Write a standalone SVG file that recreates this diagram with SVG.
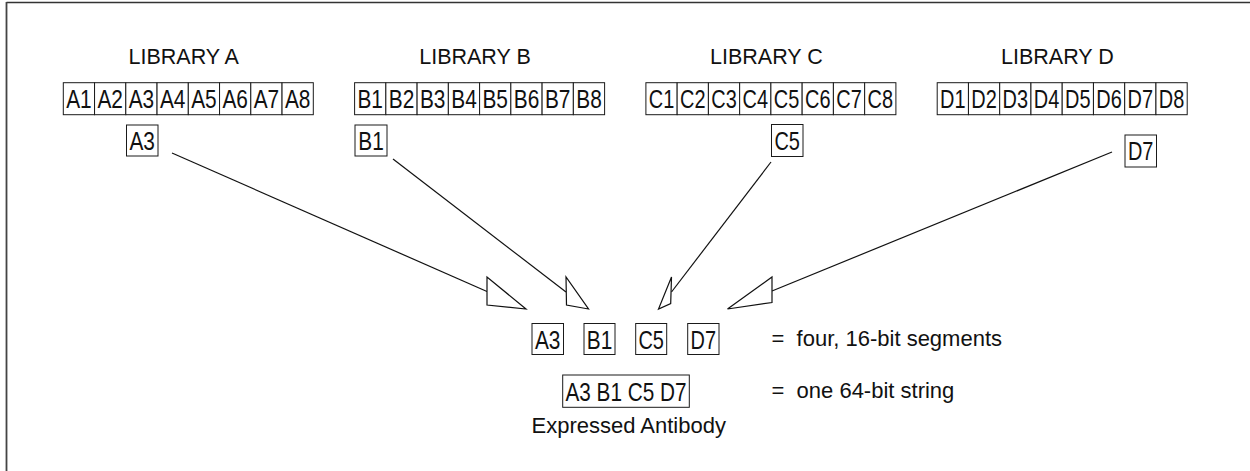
<svg xmlns="http://www.w3.org/2000/svg" width="1250" height="471" viewBox="0 0 1250 471">
<style>
.bx{fill:#fff;stroke:#1a1a1a;stroke-width:1}
.ct{font-family:"Liberation Sans",Arial,sans-serif;font-size:26px;fill:#111;text-anchor:middle}
.lb{font-family:"Liberation Sans",Arial,sans-serif;font-size:21.5px;fill:#111;text-anchor:middle}
.tx{font-family:"Liberation Sans",Arial,sans-serif;font-size:22px;fill:#111}
.ln{stroke:#111;stroke-width:1.2;fill:none}
.ah{fill:#fff;stroke:#111;stroke-width:1.2;stroke-linejoin:miter}
</style>
<rect width="1250" height="471" fill="#fff"/>
<g id="frame">
<line x1="6.5" y1="2.5" x2="1250" y2="2.5" stroke="#333" stroke-width="1.6"/>
<line x1="6.5" y1="2" x2="6.5" y2="471" stroke="#444" stroke-width="1.8"/>
</g>
<g id="libraryA">
<text class="lb" x="183.7" y="63.5">LIBRARY A</text>
<rect class="bx" x="63.3" y="82.7" width="31.25" height="32"/><text class="ct" x="78.9" y="107.5" textLength="25.5" lengthAdjust="spacingAndGlyphs">A1</text>
<rect class="bx" x="94.55" y="82.7" width="31.25" height="32"/><text class="ct" x="110.2" y="107.5" textLength="25.5" lengthAdjust="spacingAndGlyphs">A2</text>
<rect class="bx" x="125.8" y="82.7" width="31.25" height="32"/><text class="ct" x="141.4" y="107.5" textLength="25.5" lengthAdjust="spacingAndGlyphs">A3</text>
<rect class="bx" x="157.05" y="82.7" width="31.25" height="32"/><text class="ct" x="172.7" y="107.5" textLength="25.5" lengthAdjust="spacingAndGlyphs">A4</text>
<rect class="bx" x="188.3" y="82.7" width="31.25" height="32"/><text class="ct" x="203.9" y="107.5" textLength="25.5" lengthAdjust="spacingAndGlyphs">A5</text>
<rect class="bx" x="219.55" y="82.7" width="31.25" height="32"/><text class="ct" x="235.2" y="107.5" textLength="25.5" lengthAdjust="spacingAndGlyphs">A6</text>
<rect class="bx" x="250.8" y="82.7" width="31.25" height="32"/><text class="ct" x="266.4" y="107.5" textLength="25.5" lengthAdjust="spacingAndGlyphs">A7</text>
<rect class="bx" x="282.05" y="82.7" width="31.25" height="32"/><text class="ct" x="297.7" y="107.5" textLength="25.5" lengthAdjust="spacingAndGlyphs">A8</text>
</g>
<g id="libraryB">
<text class="lb" x="475" y="63.5">LIBRARY B</text>
<rect class="bx" x="354.6" y="82.7" width="31.25" height="32"/><text class="ct" x="370.2" y="107.5" textLength="25.5" lengthAdjust="spacingAndGlyphs">B1</text>
<rect class="bx" x="385.85" y="82.7" width="31.25" height="32"/><text class="ct" x="401.5" y="107.5" textLength="25.5" lengthAdjust="spacingAndGlyphs">B2</text>
<rect class="bx" x="417.1" y="82.7" width="31.25" height="32"/><text class="ct" x="432.7" y="107.5" textLength="25.5" lengthAdjust="spacingAndGlyphs">B3</text>
<rect class="bx" x="448.35" y="82.7" width="31.25" height="32"/><text class="ct" x="464" y="107.5" textLength="25.5" lengthAdjust="spacingAndGlyphs">B4</text>
<rect class="bx" x="479.6" y="82.7" width="31.25" height="32"/><text class="ct" x="495.2" y="107.5" textLength="25.5" lengthAdjust="spacingAndGlyphs">B5</text>
<rect class="bx" x="510.85" y="82.7" width="31.25" height="32"/><text class="ct" x="526.5" y="107.5" textLength="25.5" lengthAdjust="spacingAndGlyphs">B6</text>
<rect class="bx" x="542.1" y="82.7" width="31.25" height="32"/><text class="ct" x="557.7" y="107.5" textLength="25.5" lengthAdjust="spacingAndGlyphs">B7</text>
<rect class="bx" x="573.35" y="82.7" width="31.25" height="32"/><text class="ct" x="589" y="107.5" textLength="25.5" lengthAdjust="spacingAndGlyphs">B8</text>
</g>
<g id="libraryC">
<text class="lb" x="766.4" y="63.5">LIBRARY C</text>
<rect class="bx" x="645.9" y="82.7" width="31.25" height="32"/><text class="ct" x="661.5" y="107.5" textLength="25.5" lengthAdjust="spacingAndGlyphs">C1</text>
<rect class="bx" x="677.15" y="82.7" width="31.25" height="32"/><text class="ct" x="692.8" y="107.5" textLength="25.5" lengthAdjust="spacingAndGlyphs">C2</text>
<rect class="bx" x="708.4" y="82.7" width="31.25" height="32"/><text class="ct" x="724" y="107.5" textLength="25.5" lengthAdjust="spacingAndGlyphs">C3</text>
<rect class="bx" x="739.65" y="82.7" width="31.25" height="32"/><text class="ct" x="755.3" y="107.5" textLength="25.5" lengthAdjust="spacingAndGlyphs">C4</text>
<rect class="bx" x="770.9" y="82.7" width="31.25" height="32"/><text class="ct" x="786.5" y="107.5" textLength="25.5" lengthAdjust="spacingAndGlyphs">C5</text>
<rect class="bx" x="802.15" y="82.7" width="31.25" height="32"/><text class="ct" x="817.8" y="107.5" textLength="25.5" lengthAdjust="spacingAndGlyphs">C6</text>
<rect class="bx" x="833.4" y="82.7" width="31.25" height="32"/><text class="ct" x="849" y="107.5" textLength="25.5" lengthAdjust="spacingAndGlyphs">C7</text>
<rect class="bx" x="864.65" y="82.7" width="31.25" height="32"/><text class="ct" x="880.3" y="107.5" textLength="25.5" lengthAdjust="spacingAndGlyphs">C8</text>
</g>
<g id="libraryD">
<text class="lb" x="1057.4" y="63.5">LIBRARY D</text>
<rect class="bx" x="937.2" y="82.7" width="31.25" height="32"/><text class="ct" x="952.8" y="107.5" textLength="25.5" lengthAdjust="spacingAndGlyphs">D1</text>
<rect class="bx" x="968.45" y="82.7" width="31.25" height="32"/><text class="ct" x="984.1" y="107.5" textLength="25.5" lengthAdjust="spacingAndGlyphs">D2</text>
<rect class="bx" x="999.7" y="82.7" width="31.25" height="32"/><text class="ct" x="1015.3" y="107.5" textLength="25.5" lengthAdjust="spacingAndGlyphs">D3</text>
<rect class="bx" x="1030.95" y="82.7" width="31.25" height="32"/><text class="ct" x="1046.6" y="107.5" textLength="25.5" lengthAdjust="spacingAndGlyphs">D4</text>
<rect class="bx" x="1062.2" y="82.7" width="31.25" height="32"/><text class="ct" x="1077.8" y="107.5" textLength="25.5" lengthAdjust="spacingAndGlyphs">D5</text>
<rect class="bx" x="1093.45" y="82.7" width="31.25" height="32"/><text class="ct" x="1109.1" y="107.5" textLength="25.5" lengthAdjust="spacingAndGlyphs">D6</text>
<rect class="bx" x="1124.7" y="82.7" width="31.25" height="32"/><text class="ct" x="1140.3" y="107.5" textLength="25.5" lengthAdjust="spacingAndGlyphs">D7</text>
<rect class="bx" x="1155.95" y="82.7" width="31.25" height="32"/><text class="ct" x="1171.6" y="107.5" textLength="25.5" lengthAdjust="spacingAndGlyphs">D8</text>
</g>
<g id="pickA3"><rect class="bx" x="126.5" y="125" width="31.5" height="31"/><text class="ct" x="142.2" y="149.5" textLength="25.5" lengthAdjust="spacingAndGlyphs">A3</text></g>
<g id="pickB1"><rect class="bx" x="355" y="125" width="32" height="31"/><text class="ct" x="371" y="149.5" textLength="25.5" lengthAdjust="spacingAndGlyphs">B1</text></g>
<g id="pickC5"><rect class="bx" x="771.5" y="124.5" width="31.5" height="32"/><text class="ct" x="787.2" y="149.5" textLength="25.5" lengthAdjust="spacingAndGlyphs">C5</text></g>
<g id="pickD7"><rect class="bx" x="1125" y="135" width="31.5" height="32"/><text class="ct" x="1140.7" y="160" textLength="25.5" lengthAdjust="spacingAndGlyphs">D7</text></g>
<g id="connectors">
<line class="ln" x1="172" y1="153" x2="487" y2="291.5"/>
<polygon class="ah" points="487,277 487,305 526,309"/>
<line class="ln" x1="393" y1="159" x2="566" y2="292"/>
<polygon class="ah" points="566,277 566.5,305 588.5,309"/>
<line class="ln" x1="771" y1="162" x2="671.5" y2="292"/>
<polygon class="ah" points="671.5,277 670.7,303.5 658.5,309"/>
<line class="ln" x1="1112" y1="152" x2="772" y2="291"/>
<polygon class="ah" points="772,277 772,302.5 727.5,309"/>
</g>
<g id="segments">
<rect class="bx" x="532" y="323.5" width="31.5" height="31"/><text class="ct" x="547.7" y="348.5" textLength="25.5" lengthAdjust="spacingAndGlyphs">A3</text>
<rect class="bx" x="584" y="323.5" width="31" height="31"/><text class="ct" x="599.5" y="348.5" textLength="25.5" lengthAdjust="spacingAndGlyphs">B1</text>
<rect class="bx" x="635.7" y="323.5" width="31" height="31"/><text class="ct" x="651.2" y="348.5" textLength="25.5" lengthAdjust="spacingAndGlyphs">C5</text>
<rect class="bx" x="687.7" y="323.5" width="31.3" height="31"/><text class="ct" x="703.3" y="348.5" textLength="25.5" lengthAdjust="spacingAndGlyphs">D7</text>
<text class="tx" x="771.5" y="345.5" xml:space="preserve">=  four, 16-bit segments</text>
</g>
<g id="string">
<rect class="bx" x="562.7" y="375" width="126.6" height="32.3"/>
<text class="ct" x="626" y="400.5" textLength="121" lengthAdjust="spacingAndGlyphs">A3 B1 C5 D7</text>
<text class="tx" x="771.5" y="397.7" xml:space="preserve">=  one 64-bit string</text>
<text class="tx" x="531.5" y="432.7">Expressed Antibody</text>
</g>
</svg>
